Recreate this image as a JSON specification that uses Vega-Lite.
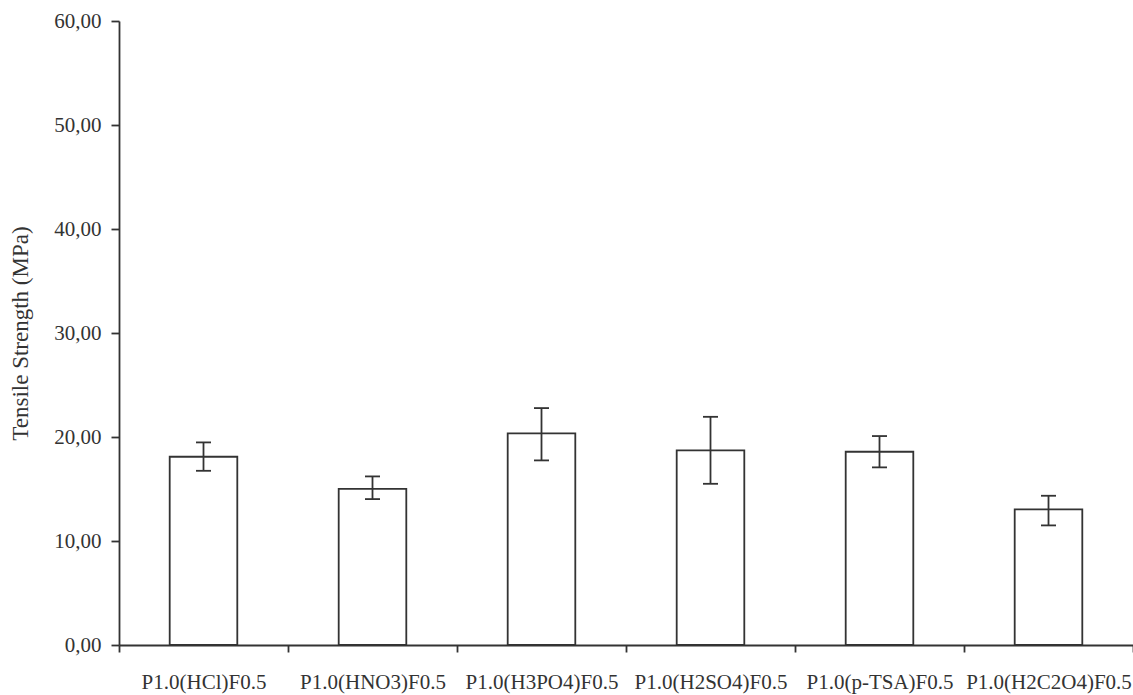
{
  "$schema": "https://vega.github.io/schema/vega-lite/v6.json",
  "width": 1014,
  "height": 624,
  "autosize": {"type": "none"},
  "padding": {"left": 119, "top": 21, "right": 0, "bottom": 50},
  "background": "white",
  "config": {"view": {"stroke": null}, "font": "Liberation Serif"},
  "data": {
    "values": [
      {"sample": "P1.0(HCl)F0.5", "mean": 18.1, "lo": 16.75, "hi": 19.48},
      {"sample": "P1.0(HNO3)F0.5", "mean": 15.02, "lo": 14.03, "hi": 16.21},
      {"sample": "P1.0(H3PO4)F0.5", "mean": 20.35, "lo": 17.75, "hi": 22.78},
      {"sample": "P1.0(H2SO4)F0.5", "mean": 18.71, "lo": 15.5, "hi": 21.94},
      {"sample": "P1.0(p-TSA)F0.5", "mean": 18.58, "lo": 17.08, "hi": 20.09},
      {"sample": "P1.0(H2C2O4)F0.5", "mean": 13.04, "lo": 11.5, "hi": 14.35}
    ]
  },
  "encoding": {
    "x": {
      "field": "sample",
      "type": "nominal",
      "sort": null,
      "scale": {"paddingInner": 0, "paddingOuter": 0},
      "axis": {
        "title": null,
        "labelAngle": 0,
        "tickBand": "extent",
        "domainColor": "#333",
        "domainWidth": 1.8,
        "tickColor": "#333",
        "tickWidth": 1.8,
        "tickSize": 7,
        "labelPadding": 19,
        "labelFont": "Liberation Serif",
        "labelFontSize": 21,
        "labelColor": "#333",
        "labelOverlap": false,
        "labelBound": false
      }
    }
  },
  "layer": [
    {
      "mark": {"type": "bar", "fill": "white", "stroke": "#333", "strokeWidth": 1.8, "opacity": 1, "width": {"band": 0.4}},
      "encoding": {
        "y": {
          "field": "mean",
          "type": "quantitative",
          "title": "Tensile Strength (MPa)",
          "scale": {"domain": [0, 60], "nice": false},
          "axis": {
            "values": [0, 10, 20, 30, 40, 50, 60],
            "labelExpr": "replace(format(datum.value, '.2f'), '.', ',')",
            "grid": false,
            "domainColor": "#333",
            "domainWidth": 1.8,
            "tickColor": "#333",
            "tickWidth": 1.8,
            "tickSize": 8,
            "labelPadding": 10,
            "labelFont": "Liberation Serif",
            "labelFontSize": 21,
            "labelColor": "#333",
            "titleFont": "Liberation Serif",
            "titleFontSize": 23,
            "titleFontWeight": "normal",
            "titleColor": "#333",
            "titleAngle": -90,
            "titleAlign": "center",
            "titleBaseline": "alphabetic",
            "titleX": -92
          }
        }
      }
    },
    {
      "mark": {"type": "rule", "stroke": "#333", "strokeWidth": 1.8},
      "encoding": {
        "y": {"field": "lo", "type": "quantitative", "title": "Tensile Strength (MPa)"},
        "y2": {"field": "hi"}
      }
    },
    {
      "mark": {"type": "tick", "color": "#333", "size": 15, "thickness": 1.8, "opacity": 1},
      "encoding": {
        "y": {"field": "lo", "type": "quantitative", "title": "Tensile Strength (MPa)"}
      }
    },
    {
      "mark": {"type": "tick", "color": "#333", "size": 15, "thickness": 1.8, "opacity": 1},
      "encoding": {
        "y": {"field": "hi", "type": "quantitative", "title": "Tensile Strength (MPa)"}
      }
    }
  ]
}
